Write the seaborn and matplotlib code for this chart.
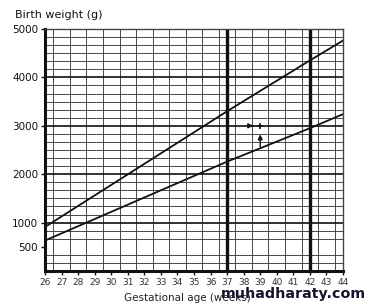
import matplotlib
matplotlib.use("Agg")
import matplotlib.pyplot as plt
from matplotlib.ticker import MultipleLocator
import pandas as pd
import seaborn as sns

# values
weeks = [26, 37, 42, 44]
upper_g = [910, 3300, 4350, 4760]
lower_g = [630, 2260, 2950, 3240]
y_ticks = [500, 1000, 2000, 3000, 4000, 5000]
x_ticks = list(range(26, 45))
marker_week = 39
marker_weight = 3000
start_weight = 2510

df = pd.DataFrame({
    "week": weeks * 2,
    "weight": upper_g + lower_g,
    "curve": ["upper"] * len(weeks) + ["lower"] * len(weeks),
})

sns.set_theme(style="white")
plt.rcParams["font.family"] = ["DejaVu Sans"]

fig = plt.figure(figsize=(3.72, 3.08), dpi=100)
ax = fig.add_axes([0.121, 0.12, 0.801, 0.786])

# graph paper
ax.set_xlim(26, 44)
ax.set_ylim(0, 5000)
ax.xaxis.set_minor_locator(MultipleLocator(0.5))
ax.yaxis.set_minor_locator(MultipleLocator(1000 / 6))
ax.grid(which="minor", color="#3a3a3a", linewidth=0.65)
ax.grid(which="major", visible=False)
for g in range(1000, 5000, 1000):
    ax.axhline(g, color="#111111", linewidth=1.2, zorder=1)
for w in (37, 42):
    ax.axvline(w, color="#111111", linewidth=2.4, zorder=1)

sns.lineplot(data=df, x="week", y="weight", units="curve", estimator=None,
             color="#111111", linewidth=1.3, ax=ax, legend=False)

# arrows to the 39 week / 3000 g point
ax.annotate("", xy=(marker_week, marker_weight - 120), xytext=(marker_week, start_weight),
            arrowprops=dict(arrowstyle="-|>", color="#111111", lw=1.0, mutation_scale=7))
ax.annotate("", xy=(marker_week - 0.25, marker_weight), xytext=(marker_week - 0.6, marker_weight),
            arrowprops=dict(arrowstyle="-|>", color="#111111", lw=1.0, mutation_scale=7))
ax.plot([marker_week], [marker_weight], marker="+", color="#111111", markersize=5, mew=1.2)

ax.set_xticks(x_ticks)
ax.set_xticklabels([str(x) for x in x_ticks], fontsize=6.5, color="#333333")
ax.set_yticks(y_ticks)
ax.set_yticklabels([str(y) for y in y_ticks], fontsize=7.5, color="#111111")
ax.tick_params(axis="both", which="major", length=3, width=1, color="#111111", pad=2,
               left=True, bottom=True)
ax.tick_params(which="minor", length=0)

for side in ("left", "bottom"):
    ax.spines[side].set_linewidth(2.2)
    ax.spines[side].set_color("#111111")
for side in ("top", "right"):
    ax.spines[side].set_linewidth(1.0)
    ax.spines[side].set_color("#444444")

ax.set_xlabel("")
ax.set_ylabel("")
fig.text(0.04, 0.95, "Birth weight (g)", fontsize=8, color="#111111", va="center")
fig.text(0.333, 0.032, "Gestational age (weeks)", fontsize=7.5, color="#222222", va="center")
fig.text(0.985, 0.045, "muhadharaty.com", fontsize=10.3, fontweight="bold",
         color="#14142a", ha="right", va="center")

fig.savefig("out.png", dpi=100)
